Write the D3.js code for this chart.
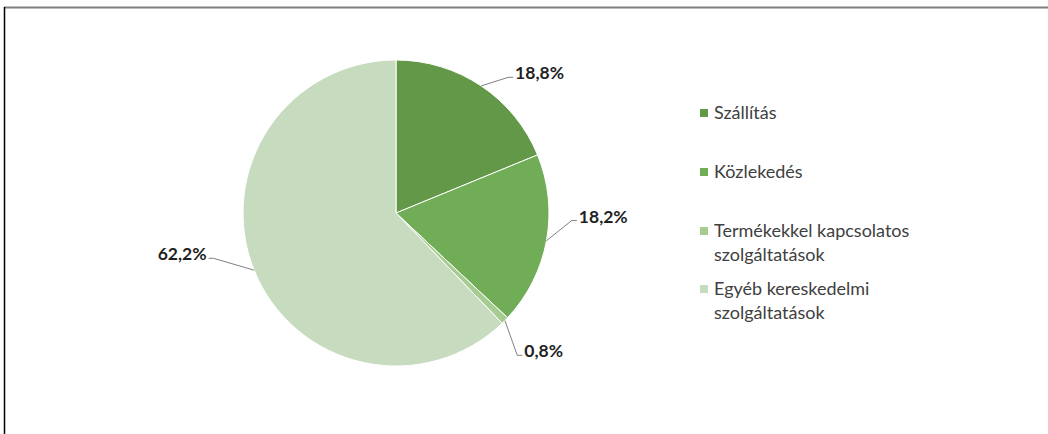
<!DOCTYPE html>
<html>
<head>
<meta charset="utf-8">
<script src="https://cdn.jsdelivr.net/npm/d3@7"></script>
<style>
  body { margin: 0; background: #fff; }
  svg { display: block; font-family: Lato, "Liberation Sans", sans-serif; }
</style>
</head>
<body>
<script>
// data
let categories = ["Szállítás", "Közlekedés", "Termékekkel kapcsolatos szolgáltatások", "Egyéb kereskedelmi szolgáltatások"];
let legendLines = [["Szállítás"], ["Közlekedés"], ["Termékekkel kapcsolatos", "szolgáltatások"], ["Egyéb kereskedelmi", "szolgáltatások"]];
let values = [18.8, 18.2, 0.8, 62.2];
let labels = ["18,8%", "18,2%", "0,8%", "62,2%"];

let colors = ["#629848", "#71ad56", "#a6cc92", "#c7dcbf"];

let width = 1048, height = 434,
    cx = 396, cy = 213,
    radius = 153;

let svg = d3.select("body").append("svg")
    .attr("width", width)
    .attr("height", height);

// frame
svg.append("line").attr("x1", 4).attr("x2", width).attr("y1", 7.5).attr("y2", 7.5)
    .attr("stroke", "#7f7f7f").attr("stroke-width", 2);
svg.append("line").attr("x1", 4.5).attr("x2", 4.5).attr("y1", 7).attr("y2", height)
    .attr("stroke", "#000").attr("stroke-width", 1.5);

let pie = d3.pie().sort(null).value(d => d);
let arcs = pie(values);

let arc = d3.arc().outerRadius(radius).innerRadius(0);

let g = svg.append("g").attr("transform", "translate(" + cx + "," + cy + ")");

g.selectAll(".slice")
    .data(arcs)
    .enter().append("path")
    .attr("class", "slice")
    .attr("d", arc)
    .attr("fill", (d, i) => colors[i])
    .attr("stroke", "#fff")
    .attr("stroke-width", 1);

// label placement (Excel style best fit): angle shift and radius of the elbow
let labelShift = [0.1, -0.14, 0.086, 0.14];
let labelRadius = [176, 176, 187, 188];

function pt(a, r) { return [Math.sin(a) * r, -Math.cos(a) * r]; }

arcs.forEach((d, i) => {
    let mid = (d.startAngle + d.endAngle) / 2;
    let p0 = pt(mid, radius);
    let p1 = pt(mid + labelShift[i], labelRadius[i]);
    let right = p1[0] > 0;
    let p2 = [p1[0] + (right ? 5 : -5), p1[1]];
    g.append("polyline")
        .attr("points", [p0, p1, p2].map(p => p.join(",")).join(" "))
        .attr("fill", "none")
        .attr("stroke", "#808080")
        .attr("stroke-width", 1);
    g.append("text")
        .attr("x", p2[0] + (right ? 2 : -2))
        .attr("y", p2[1] - 4)
        .attr("dy", "0.35em")
        .attr("text-anchor", right ? "start" : "end")
        .attr("font-size", 17.5)
        .attr("font-weight", "bold")
        .attr("fill", "#1f1f1f")
        .text(labels[i]);
});

// legend
let legendY = [113, 172, 231, 289];
let legend = svg.append("g").attr("transform", "translate(700,0)");
categories.forEach((c, i) => {
    legend.append("rect")
        .attr("x", 0).attr("y", legendY[i] - 4)
        .attr("width", 8).attr("height", 8)
        .attr("fill", colors[i]);
    let t = legend.append("text")
        .attr("x", 14).attr("y", legendY[i])
        .attr("font-size", 18)
        .attr("fill", "#404040");
    legendLines[i].forEach((line, j) => {
        t.append("tspan").attr("x", 14).attr("dy", j === 0 ? "0.35em" : 24).text(line);
    });
});
</script>
</body>
</html>
